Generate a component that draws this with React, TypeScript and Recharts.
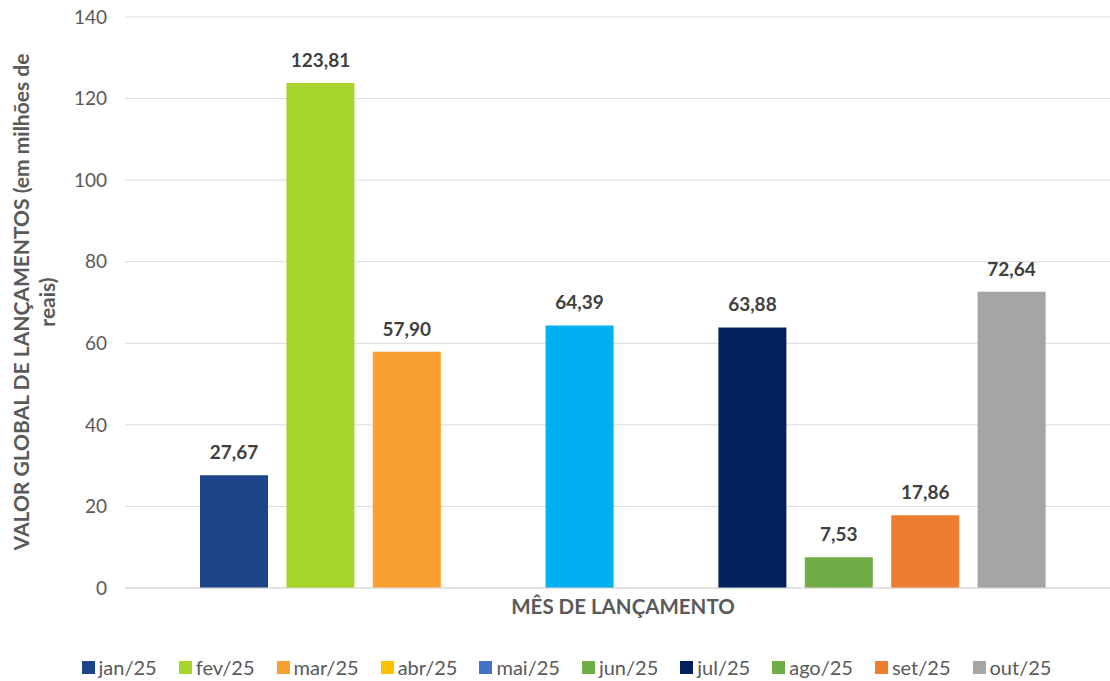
import { BarChart, Bar, XAxis, YAxis, CartesianGrid, Legend, LabelList } from "recharts"

const months = ["jan/25", "fev/25", "mar/25", "abr/25", "mai/25", "jun/25", "jul/25", "ago/25", "set/25", "out/25"]
const values: (number | null)[] = [27.67, 123.81, 57.9, null, 64.39, null, 63.88, 7.53, 17.86, 72.64]
const barColors = ["#1b4587", "#a7d42b", "#f79f31", "#ffc000", "#00b0f0", "#70ad47", "#02205e", "#70ad47", "#ed7d31", "#a5a5a5"]
const legendColors = ["#1b4587", "#a7d42b", "#f79f31", "#ffc000", "#4472c4", "#70ad47", "#02205e", "#70ad47", "#ed7d31", "#a5a5a5"]
const yTicks = [0, 20, 40, 60, 80, 100, 120, 140]

const row: Record<string, string | number | null> = { mes: "" }
months.forEach((m, i) => {
  row[m] = values[i]
})
const data = [row]

const FONT = "Lato, 'Open Sans', sans-serif"

const fmt = (v: any) => (v == null ? "" : Number(v).toFixed(2).replace(".", ","))

function YTitle() {
  return (
    <text
      transform="rotate(-90, 29, 302)"
      x={29}
      y={302}
      textAnchor="middle"
      fontFamily={FONT}
      fontSize={21}
      fontWeight={700}
      fill="#595959"
    >
      <tspan x={29} dy={0}>VALOR GLOBAL DE LANÇAMENTOS (em milhões de</tspan>
      <tspan x={29} dy={26}>reais)</tspan>
    </text>
  )
}

function MonthLegend() {
  return (
    <div
      style={{
        height: 28,
        display: "flex",
        justifyContent: "center",
        alignItems: "center",
        gap: 22,
        paddingLeft: 12,
        fontFamily: FONT,
        fontSize: 20,
        color: "#595959",
      }}
    >
      {months.map((m, i) => (
        <span key={m} style={{ display: "flex", alignItems: "center" }}>
          <span style={{ width: 13, height: 13, background: legendColors[i], marginRight: 4 }} />
          {m}
        </span>
      ))}
    </div>
  )
}

export default function App() {
  return (
    <div style={{ position: "absolute", left: 0, top: 0, width: 1110, height: 681, overflow: "hidden", background: "#fff" }}>
      <BarChart
        width={1125}
        height={681}
        data={data}
        margin={{ top: 17, right: 4, left: 0, bottom: 0 }}
        barGap={18.4}
        barCategoryGap={0}
      >
        <CartesianGrid vertical={false} stroke="#d9d9d9" />
        <XAxis
          dataKey="mes"
          tick={false}
          tickLine={false}
          axisLine={{ stroke: "#d9d9d9" }}
          height={65}
          label={{
            value: "MÊS DE LANÇAMENTO",
            position: "insideTop",
            offset: 11,
            fill: "#595959",
            fontFamily: FONT,
            fontSize: 20.5,
            fontWeight: 700,
          }}
        />
        <YAxis
          width={125}
          domain={[0, 140]}
          ticks={yTicks}
          tickLine={false}
          axisLine={false}
          tickMargin={12}
          tick={{ fill: "#595959", fontSize: 19, fontFamily: FONT }}
          label={{ content: YTitle }}
        />
        <Legend verticalAlign="bottom" content={MonthLegend} />
        {months.map((m, i) => (
          <Bar key={m} dataKey={m} fill={barColors[i]} barSize={68} isAnimationActive={false}>
            <LabelList
              dataKey={m}
              position="top"
              offset={16}
              formatter={fmt}
              style={{ fill: "#404040", fontFamily: FONT, fontSize: 19, fontWeight: 700 }}
            />
          </Bar>
        ))}
      </BarChart>
    </div>
  )
}
